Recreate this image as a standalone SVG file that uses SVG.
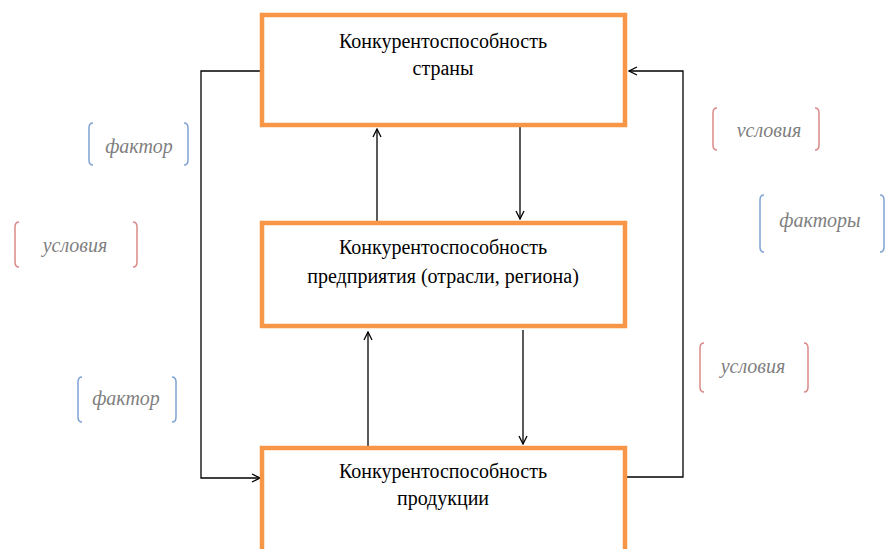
<svg xmlns="http://www.w3.org/2000/svg" width="886" height="549" viewBox="0 0 886 549">
<defs>
<marker id="arr" viewBox="0 0 10 10" refX="9" refY="5" markerWidth="10" markerHeight="10" markerUnits="userSpaceOnUse" orient="auto">
<path d="M1,1 L9,5 L1,9" fill="none" stroke="#000" stroke-width="1.3"/>
</marker>
</defs>
<style>
.box{fill:#fff;stroke:#F79646;stroke-width:4.5}
.t{font-family:'Liberation Serif','DejaVu Serif',serif;font-size:20px;fill:#000;text-anchor:middle}
.lbl{font-family:'Liberation Serif','DejaVu Serif',serif;font-size:20px;font-style:italic;fill:#7f7f7f;text-anchor:middle}
.c{fill:none;stroke:#000;stroke-width:1.3}
.bb{fill:none;stroke:#7FA3D3;stroke-width:1.5}
.br{fill:none;stroke:#D98A88;stroke-width:1.5}
</style>
<rect width="886" height="549" fill="#fff"/>
<g id="connectors">
<path class="c" d="M262,71 H201 V478 H260" marker-end="url(#arr)"/>
<path class="c" d="M627,477 H683 V71 H629" marker-end="url(#arr)"/>
<path class="c" d="M377,221 V129" marker-end="url(#arr)"/>
<path class="c" d="M520,127 V219" marker-end="url(#arr)"/>
<path class="c" d="M368,446 V332" marker-end="url(#arr)"/>
<path class="c" d="M523,330 V444" marker-end="url(#arr)"/>
</g>
<g id="node-country">
<rect class="box" x="262" y="15" width="363" height="110"/>
<text class="t" x="443" y="48">Конкурентоспособность</text>
<text class="t" x="443" y="75">страны</text>
</g>
<g id="node-enterprise">
<rect class="box" x="262" y="223" width="363" height="103"/>
<text class="t" x="443" y="254">Конкурентоспособность</text>
<text class="t" x="443" y="283">предприятия (отрасли, региона)</text>
</g>
<g id="node-product">
<rect class="box" x="262" y="448" width="363" height="110"/>
<text class="t" x="443" y="478">Конкурентоспособность</text>
<text class="t" x="443" y="505">продукции</text>
</g>
<g id="label-factor-1">
<path class="bb" d="M93,123 Q89,123 89,128 V160 Q89,165 93,165"/>
<path class="bb" d="M184,123 Q188,123 188,128 V160 Q188,165 184,165"/>
<text class="lbl" x="139" y="153">фактор</text>
</g>
<g id="label-cond-1">
<path class="br" d="M19,222 Q15,222 15,227 V262 Q15,267 19,267"/>
<path class="br" d="M133,222 Q137,222 137,227 V262 Q137,267 133,267"/>
<text class="lbl" x="75" y="252">условия</text>
</g>
<g id="label-factor-2">
<path class="bb" d="M82,377 Q78,377 78,382 V417 Q78,422 82,422"/>
<path class="bb" d="M172,377 Q176,377 176,382 V417 Q176,422 172,422"/>
<text class="lbl" x="126" y="405">фактор</text>
</g>
<g id="label-cond-2">
<path class="br" d="M717,108 Q713,108 713,113 V145 Q713,150 717,150"/>
<path class="br" d="M815,108 Q819,108 819,113 V145 Q819,150 815,150"/>
<text class="lbl" x="769" y="137">vсловия</text>
</g>
<g id="label-factors">
<path class="bb" d="M764,195 Q760,195 760,200 V247 Q760,252 764,252"/>
<path class="bb" d="M880,195 Q884,195 884,200 V247 Q884,252 880,252"/>
<text class="lbl" x="820" y="227">факторы</text>
</g>
<g id="label-cond-3">
<path class="br" d="M704,343 Q700,343 700,348 V387 Q700,392 704,392"/>
<path class="br" d="M804,343 Q808,343 808,348 V387 Q808,392 804,392"/>
<text class="lbl" x="753" y="373">условия</text>
</g>
</svg>
